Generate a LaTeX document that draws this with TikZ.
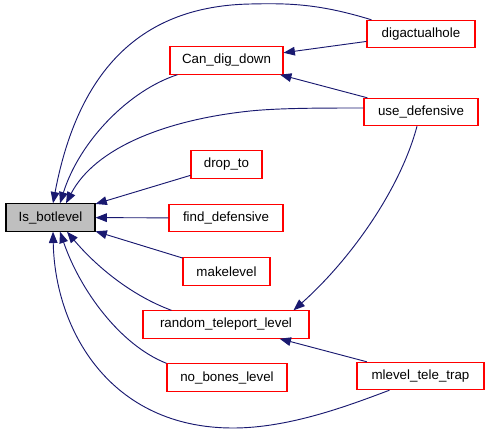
\documentclass[tikz,border=0pt]{standalone}
\usepackage{fontspec}
\setmainfont{Liberation Sans}
\usetikzlibrary{arrows.meta,calc}
\definecolor{edgeblue}{RGB}{25,25,112}
\definecolor{fnred}{RGB}{255,0,0}
\definecolor{rootgray}{RGB}{191,191,191}

\begin{document}
\begin{tikzpicture}[
    x=0.75pt, y=-0.75pt,
    fn/.style={draw=fnred, line width=0.8pt, fill=white, font=\fontsize{10}{12}\selectfont,
               minimum height=20.5pt, inner sep=0pt},
    root/.style={fn, draw=black, fill=rootgray},
    arr/.style={-{Triangle[length=8.5pt,width=6.5pt]}, draw=edgeblue, line width=0.7pt},
]
\useasboundingbox (0,0) rectangle (491,433);

% ---- Callee ----
\node[root, minimum width=66.75pt] (isbot)     at (50.5,217.5) {Is\_botlevel};

% ---- Direct callers ----
\node[fn, minimum width=84.75pt]  (candig)    at (226.5,60.5)  {Can\_dig\_down};
\node[fn, minimum width=53.25pt]  (dropto)    at (226.5,164.5) {drop\_to};
\node[fn, minimum width=85.5pt]   (finddef)   at (226,218)     {find\_defensive};
\node[fn, minimum width=65.25pt]  (makelevel) at (226.5,271.5) {makelevel};
\node[fn, minimum width=124.5pt]  (randtel)   at (226,324.5)   {random\_teleport\_level};
\node[fn, minimum width=90pt]     (nobones)   at (227,377.5)   {no\_bones\_level};

% ---- Outer callers ----
\node[fn, minimum width=81pt]     (dig)       at (421,34)      {digactualhole};
\node[fn, minimum width=85.5pt]   (usedef)    at (421,112)     {use\_defensive};
\node[fn, minimum width=95.25pt]  (mlevel)    at (420.5,376)   {mlevel\_tele\_trap};

% straight edges
\draw[arr] (dropto) -- (isbot);
\draw[arr] (finddef) -- (isbot);
\draw[arr] (makelevel) -- (isbot);
\draw[arr] (dig) -- (candig);
\draw[arr] (usedef) -- (candig);
\draw[arr] (mlevel) -- (randtel);

% curved edges into Is_botlevel, top side
\draw[arr] ($(dig.north west)+(5,0)$) .. controls (320,4) and (290,3) .. (250,4)
           .. controls (150,6) and (80,60) .. ($(isbot.north)+(2.5,0)$);
\draw[arr] ($(candig.south west)+(8,0)$) .. controls (130,90) and (80,140) .. ($(isbot.north)+(9.5,0)$);
\draw[arr] ($(usedef.west)+(0,-4)$) .. controls (320,108) and (280,108) .. (250,111)
           .. controls (165,120) and (95,148) .. ($(isbot.north)+(15.5,0)$);

% curved edges into Is_botlevel, bottom side
\draw[arr] ($(randtel.north west)+(29,0)$) .. controls (130,295) and (95,265) .. ($(isbot.south)+(16.5,0)$);
\draw[arr] (nobones.north west) .. controls (120,345) and (80,290) .. ($(isbot.south)+(9.5,0)$);
\draw[arr] ($(mlevel.south west)+(33,0)$) .. controls (350,405) and (290,428) .. (233,428)
           .. controls (110,428) and (55,330) .. ($(isbot.south)+(2.5,0)$);

% use_defensive down to random_teleport_level
\draw[arr] ($(usedef.south)+(-4,0)$) .. controls (400,190) and (350,260) .. ($(randtel.north east)+(-16,0)$);
\end{tikzpicture}
\end{document}
